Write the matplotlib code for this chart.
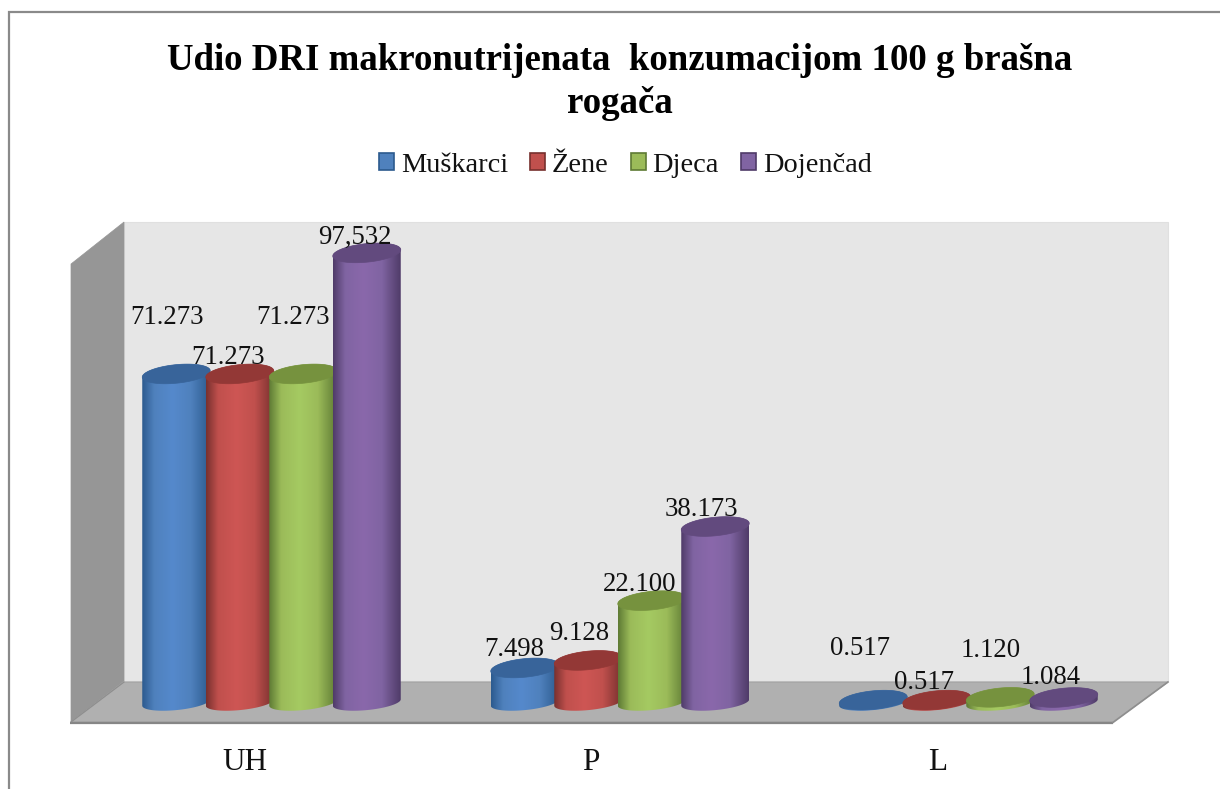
import numpy as np
import matplotlib
matplotlib.use("Agg")
import matplotlib.pyplot as plt
from matplotlib.patches import Polygon, Patch, PathPatch
from matplotlib.path import Path
from matplotlib.colors import LinearSegmentedColormap

categories = ["UH", "P", "L"]
series_names = ["Muškarci", "Žene", "Djeca", "Dojenčad"]
muskarci = [71.273, 7.498, 0.517]
zene = [71.273, 9.128, 0.517]
djeca = [71.273, 22.100, 1.120]
dojencad = [97.532, 38.173, 1.084]
values = [muskarci, zene, djeca, dojencad]
labels = [["71.273", "7.498", "0.517"], ["71.273", "9.128", "0.517"],
          ["71.273", "22.100", "1.120"], ["97,532", "38.173", "1.084"]]
title = "Udio DRI makronutrijenata  konzumacijom 100 g brašna\nrogača"

# label centre positions relative to the top of each bar (pixels)
label_dx = [[-9, -11, -13], [-12, -9, -13], [-10, -12, -10], [-12, -14, -13]]
label_dy = [[56, 18, 52], [16, 27, 18], [56, 16, 47], [15, 17, 20]]

face = ["#4f81bd", "#c0504d", "#9bbb59", "#8064a2"]
mid = ["#5589cc", "#ce5654", "#a5ca62", "#8a68ab"]
dark = ["#2c5a8e", "#77302e", "#5e7a34", "#4f3b68"]
top = ["#38649a", "#933836", "#76923e", "#624a7e"]

W, H = 1220, 789
fig = plt.figure(figsize=(W / 100, H / 100), dpi=100, facecolor="white")
plt.rcParams["font.family"] = ["Liberation Serif"]

# scenery, in pixel space
bg = fig.add_axes([0, 0, 1, 1], zorder=0)
bg.set_xlim(0, W); bg.set_ylim(H, 0); bg.axis("off")
bg.plot([9, 9, W], [H, 12, 12], color="#8a8a8a", lw=1.6, solid_joinstyle="miter")
bg.add_patch(Polygon([(124, 222), (1168, 222), (1168, 681), (124, 681)], fc="#e6e6e6", ec="#e0e0e0", lw=0.8))
bg.add_patch(Polygon([(71, 264), (124, 222), (124, 681), (71, 722)], fc="#969696", ec="#969696", lw=0.5))
bg.add_patch(Polygon([(124, 682), (1168, 682), (1113, 722), (71, 722)], fc="#b0b0b0", ec="#a0a0a0", lw=0.8))
bg.plot([70, 1113], [722.5, 722.5], color="#868686", lw=1.6, solid_capstyle="butt")
bg.plot([1113, 1168], [722.5, 682], color="#8e8e8e", lw=1.2)
bg.plot([71, 124], [722, 682], color="#8e8e8e", lw=0.8)

# main axes
AL, AR, AT, AB = 71, 1168, 222, 723
ax = fig.add_axes([AL / W, 1 - AB / H, (AR - AL) / W, (AB - AT) / H], zorder=1)
PX_X, PX_Y = 348.5, 4.61
X0, Y0 = 271.5, 702.5
ax.patch.set_alpha(0)
for s in ax.spines.values():
    s.set_visible(False)
ax.set_yticks([])
ax.set_xticks(np.arange(len(categories)) + np.array([-0.076, -0.083, -0.0875]))
ax.set_xticklabels(categories, fontsize=22.5, color="#111111")
ax.tick_params(axis="x", length=0, pad=18)

bar_step = 63.5 / PX_X
a = 34.0 / PX_X
b = 9.3 / PX_Y
b_low = 7.6 / PX_Y
tilt = 3.2 / PX_Y

def rim(cx, cy, t, bb=b):
    return cx + a * np.cos(t), cy + bb * np.sin(t) + tilt * np.cos(t)

g = np.linspace(0, 1, 256)[None, :]
for k in range(4):
    cmap = LinearSegmentedColormap.from_list(
        "c", [(0, dark[k]), (0.18, face[k]), (0.45, mid[k]), (0.72, face[k]), (1, dark[k])])
    for i, v in enumerate(values[k]):
        cx = i + (k - 1.5) * bar_step
        t1 = np.linspace(0, np.pi, 60)
        xt, yt = rim(cx, v, t1)
        t2 = np.linspace(np.pi, 2 * np.pi, 60)
        xb, yb = rim(cx, 0, t2, b_low)
        pts = np.r_[np.c_[xt, yt], np.c_[xb, yb], [[xt[0], yt[0]]]]
        im = ax.imshow(g, cmap=cmap, extent=[cx - a, cx + a, yb.min(), yt.max()],
                       aspect="auto", zorder=3 + k, interpolation="bilinear")
        clip = PathPatch(Path(pts), fc="none", ec="none", transform=ax.transData)
        ax.add_patch(clip)
        im.set_clip_path(clip)
        tt = np.linspace(0, 2 * np.pi, 120)
        xe, ye = rim(cx, v, tt)
        ax.fill(xe, ye, color=top[k], lw=0.5, zorder=3 + k + 0.1)
        ax.annotate(labels[k][i], (cx, v), xytext=(label_dx[k][i], label_dy[k][i]),
                    textcoords="offset pixels", ha="center", va="center",
                    fontsize=19.3, color="#111111", zorder=20, annotation_clip=False)
ax.set_xlim((AL - X0) / PX_X, (AR - X0) / PX_X)
ax.set_ylim((Y0 - AB) / PX_Y, (Y0 - AT) / PX_Y)

fig.text(620 / W, 1 - 82 / H, title, ha="center", va="center", fontsize=26.6,
         fontweight="bold", color="black", linespacing=1.27)

handles = [Patch(fc=face[k], ec=dark[k], lw=1.2) for k in range(4)]
fig.legend(handles, series_names, loc="center", bbox_to_anchor=(625.5 / W, 1 - 165 / H),
           ncol=4, frameon=False, fontsize=20.4, handlelength=0.53, handleheight=0.53,
           handletextpad=0.22, columnspacing=0.8, labelcolor="#111111",
           borderpad=0, borderaxespad=0)

fig.savefig("out.png", dpi=100)
